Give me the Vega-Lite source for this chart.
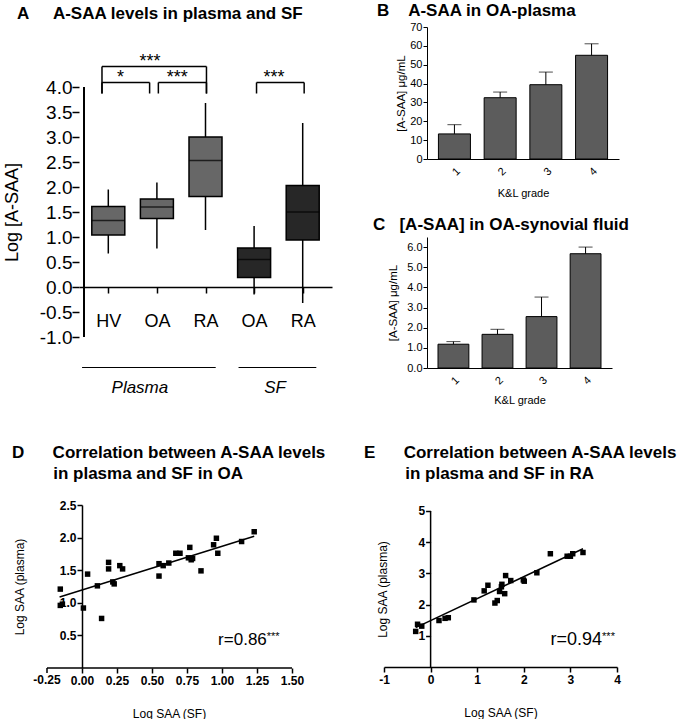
{
  "$schema": "https://vega.github.io/schema/vega-lite/v6.json",
  "background": "white",
  "padding": {"left": 3, "top": 1, "right": 0, "bottom": 0},
  "config": {
    "font": "Liberation Sans",
    "view": {"stroke": null},
    "axis": {"grid": false, "labelOverlap": false, "labelFlush": false, "domainColor": "black", "tickColor": "black", "labelColor": "black", "titleColor": "black", "titleFontWeight": "normal", "domainWidth": 1.5, "tickWidth": 1.5},
    "title": {"anchor": "start", "frame": "group", "fontSize": 17, "fontWeight": "bold", "color": "black", "baseline": "bottom"}
  },
  "spacing": 37,
  "vconcat": [
    {
      "spacing": 41,
      "hconcat": [
        {
          "width": 253,
          "height": 310,
          "title": {"text": "A\u00a0\u00a0\u00a0\u00a0\u00a0A-SAA levels in plasma and SF", "dx": -62, "offset": 4},
          "layer": [
            {
              "data": {"values": [
                {"pos": 1, "grp": "Plasma", "lo": 0.67, "q1": 1.04, "med": 1.33, "q3": 1.61, "hi": 1.95},
                {"pos": 2, "grp": "Plasma", "lo": 0.77, "q1": 1.37, "med": 1.6, "q3": 1.76, "hi": 2.09},
                {"pos": 3, "grp": "Plasma", "lo": 1.14, "q1": 1.81, "med": 2.53, "q3": 3.0, "hi": 3.68},
                {"pos": 4, "grp": "SF", "lo": -0.15, "q1": 0.19, "med": 0.55, "q3": 0.78, "hi": 1.22},
                {"pos": 5, "grp": "SF", "lo": -0.32, "q1": 0.94, "med": 1.5, "q3": 2.03, "hi": 3.28}
              ]},
              "layer": [
                {
                  "mark": {"type": "rule", "color": "black", "strokeWidth": 1.5},
                  "encoding": {
                    "x": {"field": "pos", "type": "quantitative", "title": null, "scale": {"domain": [0.5, 5.5], "nice": false, "zero": false},
                      "axis": {"values": [1, 2, 3, 4, 5], "tickCount": 20, "offset": -50, "tickSize": 6, "labelPadding": 19, "labelFontSize": 18, "labelOverlap": false, "labelFlush": false, "labelExpr": "['', 'HV', 'OA', 'RA', 'OA', 'RA'][datum.value]", "labelBaseline": "top"}},
                    "y": {"field": "lo", "type": "quantitative", "title": "Log [A-SAA]", "scale": {"domain": [-1, 5.2], "nice": false, "zero": false},
                      "axis": {"values": [-1, -0.5, 0, 0.5, 1, 1.5, 2, 2.5, 3, 3.5, 4], "tickCount": 20, "domain": false, "labelOverlap": false, "labelFlush": false, "labelExpr": "datum.value < 0 ? '-' + format(-datum.value, '.1f') : format(datum.value, '.1f')", "tickSize": 7, "labelPadding": 0, "labelFontSize": 19, "titleFontSize": 18, "titlePadding": 18, "titleY": 185}},
                    "y2": {"field": "hi"}
                  }
                },
                {
                  "mark": {"type": "bar", "size": 33, "stroke": "black", "strokeWidth": 1.5},
                  "encoding": {
                    "x": {"field": "pos", "type": "quantitative", "title": null},
                    "y": {"field": "q1", "type": "quantitative", "title": "Log [A-SAA]"},
                    "y2": {"field": "q3"},
                    "color": {"field": "grp", "type": "nominal", "scale": {"domain": ["Plasma", "SF"], "range": ["#676767", "#272727"]}, "legend": null}
                  }
                },
                {
                  "mark": {"type": "tick", "orient": "horizontal", "size": 33, "thickness": 1.5, "color": "black"},
                  "encoding": {
                    "x": {"field": "pos", "type": "quantitative", "title": null},
                    "y": {"field": "med", "type": "quantitative", "title": "Log [A-SAA]"}
                  }
                },
                {
                  "mark": {"type": "rule", "color": "black", "strokeWidth": 1.5},
                  "encoding": {"x": {"datum": 0.5}, "y": {"datum": -1}, "y2": {"datum": 4}}
                }
              ]
            },
            {
              "data": {"values": [
                {"a": 0.87, "b": 3.02, "y": 4.41, "s": "***", "m": 1.86},
                {"a": 0.87, "b": 1.85, "y": 4.09, "s": "*", "m": 1.25},
                {"a": 2.03, "b": 3.02, "y": 4.09, "s": "***", "m": 2.42},
                {"a": 4.05, "b": 5.03, "y": 4.09, "s": "***", "m": 4.41}
              ]},
              "layer": [
                {
                  "mark": {"type": "rule", "color": "black", "strokeWidth": 1.5},
                  "encoding": {"x": {"field": "a", "type": "quantitative", "title": null}, "x2": {"field": "b"}, "y": {"field": "y", "type": "quantitative", "title": "Log [A-SAA]"}}
                },
                {
                  "mark": {"type": "rule", "color": "black", "strokeWidth": 1.5},
                  "encoding": {"x": {"field": "a", "type": "quantitative", "title": null}, "y": {"field": "y", "type": "quantitative", "title": "Log [A-SAA]"}, "y2": {"datum": 3.87}}
                },
                {
                  "mark": {"type": "rule", "color": "black", "strokeWidth": 1.5},
                  "encoding": {"x": {"field": "b", "type": "quantitative", "title": null}, "y": {"field": "y", "type": "quantitative", "title": "Log [A-SAA]"}, "y2": {"datum": 3.87}}
                },
                {
                  "mark": {"type": "text", "fontSize": 18, "baseline": "alphabetic", "align": "center", "color": "black"},
                  "encoding": {"x": {"field": "m", "type": "quantitative", "title": null}, "y": {"field": "y", "type": "quantitative", "title": "Log [A-SAA]"}, "text": {"field": "s"}}
                }
              ]
            },
            {
              "data": {"values": [
                {"a": 0.46, "b": 3.21, "lab": "Plasma", "m": 1.65},
                {"a": 3.68, "b": 5.28, "lab": "SF", "m": 4.43}
              ]},
              "layer": [
                {
                  "mark": {"type": "rule", "color": "black", "strokeWidth": 1.2},
                  "encoding": {"x": {"field": "a", "type": "quantitative", "title": null}, "x2": {"field": "b"}, "y": {"datum": -1.61}}
                },
                {
                  "mark": {"type": "text", "fontSize": 17, "fontStyle": "italic", "baseline": "alphabetic", "align": "center", "color": "black"},
                  "encoding": {"x": {"field": "m", "type": "quantitative", "title": null}, "y": {"datum": -2.12}, "text": {"field": "lab"}}
                }
              ]
            }
          ]
        },
        {
          "spacing": 17,
          "vconcat": [
            {
              "width": 192,
              "height": 132,
              "title": {"text": "B\u00a0\u00a0\u00a0\u00a0A-SAA in OA-plasma", "dx": -50, "offset": 1.5},
              "data": {"values": [
                {"g": "1", "m": 13.3, "e": 18.2},
                {"g": "2", "m": 32.5, "e": 35.5},
                {"g": "3", "m": 39.4, "e": 46.1},
                {"g": "4", "m": 55.0, "e": 61.1}
              ]},
              "layer": [
                {
                  "mark": {"type": "bar", "fill": "#5c5c5c", "stroke": "black", "strokeWidth": 1},
                  "encoding": {
                    "x": {"field": "g", "type": "ordinal", "scale": {"paddingInner": 0.3, "paddingOuter": 0.25},
                      "axis": {"title": "K&L grade", "labelAngle": -45, "ticks": false, "domainWidth": 1, "labelFontSize": 11, "titleFontSize": 11, "titlePadding": 10, "labelPadding": 6}},
                    "y": {"field": "m", "type": "quantitative", "scale": {"domain": [0, 70], "nice": false},
                      "axis": {"title": "[A-SAA] μg/mL", "values": [0, 10, 20, 30, 40, 50, 60, 70], "tickCount": 20, "labelOverlap": false, "labelFlush": false, "tickSize": 4, "labelPadding": 1, "labelFontSize": 11, "titleFontSize": 11.5, "titlePadding": 3, "domainWidth": 1, "tickWidth": 1}}
                  }
                },
                {
                  "mark": {"type": "rule", "color": "black", "strokeWidth": 1},
                  "encoding": {"x": {"field": "g", "type": "ordinal"}, "y": {"field": "m", "type": "quantitative"}, "y2": {"field": "e"}}
                },
                {
                  "mark": {"type": "tick", "orient": "horizontal", "size": 14, "thickness": 1, "color": "black"},
                  "encoding": {"x": {"field": "g", "type": "ordinal"}, "y": {"field": "e", "type": "quantitative"}}
                }
              ]
            },
            {
              "width": 185,
              "height": 131,
              "title": {"text": "C\u00a0\u00a0\u00a0[A-SAA] in OA-synovial fluid", "dx": -54, "offset": 3},
              "data": {"values": [
                {"g": "1", "m": 1.18, "e": 1.31},
                {"g": "2", "m": 1.67, "e": 1.92},
                {"g": "3", "m": 2.55, "e": 3.52},
                {"g": "4", "m": 5.67, "e": 6.0}
              ]},
              "layer": [
                {
                  "mark": {"type": "bar", "fill": "#5c5c5c", "stroke": "black", "strokeWidth": 1},
                  "encoding": {
                    "x": {"field": "g", "type": "ordinal", "scale": {"paddingInner": 0.3, "paddingOuter": 0.25},
                      "axis": {"title": "K&L grade", "labelAngle": -45, "ticks": false, "domainWidth": 1, "labelFontSize": 11, "titleFontSize": 11, "titlePadding": 8, "labelPadding": 6}},
                    "y": {"field": "m", "type": "quantitative", "scale": {"domain": [0, 6.5], "nice": false},
                      "axis": {"title": "[A-SAA] μg/mL", "values": [0, 1, 2, 3, 4, 5, 6], "tickCount": 20, "labelOverlap": false, "labelFlush": false, "tickSize": 4, "labelPadding": 1, "labelFontSize": 11, "titleFontSize": 11.5, "titlePadding": 8, "domainWidth": 1, "tickWidth": 1}}
                  }
                },
                {
                  "mark": {"type": "rule", "color": "black", "strokeWidth": 1},
                  "encoding": {"x": {"field": "g", "type": "ordinal"}, "y": {"field": "m", "type": "quantitative"}, "y2": {"field": "e"}}
                },
                {
                  "mark": {"type": "tick", "orient": "horizontal", "size": 14, "thickness": 1, "color": "black"},
                  "encoding": {"x": {"field": "g", "type": "ordinal"}, "y": {"field": "e", "type": "quantitative"}}
                }
              ]
            }
          ]
        }
      ]
    },
    {
      "spacing": 37,
      "hconcat": [
        {
          "width": 213,
          "height": 163,
          "title": {"text": ["D\u00a0\u00a0\u00a0\u00a0\u00a0\u00a0Correlation between A-SAA levels", "\u200b\u00a0\u00a0\u00a0\u00a0\u00a0\u00a0\u00a0\u00a0\u2009in plasma and SF in OA"], "dx": -67, "offset": 16, "lineHeight": 21},
          "layer": [
            {
              "data": {"values": [
                {"sf": -0.155, "pl": 1.21}, {"sf": -0.155, "pl": 0.96}, {"sf": -0.14, "pl": 0.98}, {"sf": 0.01, "pl": 0.92},
                {"sf": 0.04, "pl": 1.44}, {"sf": 0.11, "pl": 1.26}, {"sf": 0.14, "pl": 0.76}, {"sf": 0.19, "pl": 1.62},
                {"sf": 0.19, "pl": 1.52}, {"sf": 0.22, "pl": 1.32}, {"sf": 0.23, "pl": 1.29}, {"sf": 0.27, "pl": 1.57},
                {"sf": 0.29, "pl": 1.52}, {"sf": 0.55, "pl": 1.6}, {"sf": 0.55, "pl": 1.41}, {"sf": 0.58, "pl": 1.57},
                {"sf": 0.62, "pl": 1.61}, {"sf": 0.67, "pl": 1.76}, {"sf": 0.7, "pl": 1.76}, {"sf": 0.76, "pl": 1.69},
                {"sf": 0.77, "pl": 1.85}, {"sf": 0.78, "pl": 1.66}, {"sf": 0.79, "pl": 1.68}, {"sf": 0.85, "pl": 1.49},
                {"sf": 0.94, "pl": 1.89}, {"sf": 0.96, "pl": 1.99}, {"sf": 0.97, "pl": 1.76}, {"sf": 1.14, "pl": 1.94},
                {"sf": 1.23, "pl": 2.09}
              ]},
              "mark": {"type": "point", "shape": "square", "filled": true, "size": 30, "color": "black", "opacity": 1},
              "encoding": {
                "x": {"field": "sf", "type": "quantitative", "scale": {"domain": [-0.0214, 1.5], "nice": false, "zero": false},
                  "axis": {"title": "Log SAA (SF)", "domain": false, "values": [0, 0.25, 0.5, 0.75, 1, 1.25, 1.5], "tickCount": 20, "labelOverlap": false, "labelFlush": false, "format": ".2f", "labelFontWeight": "bold", "labelFontSize": 12, "tickSize": 5, "labelPadding": 2, "titleFontSize": 12, "titlePadding": 22, "titleX": 90}},
                "y": {"field": "pl", "type": "quantitative", "scale": {"domain": [0, 2.5], "nice": false, "zero": false},
                  "axis": {"title": "Log SAA (plasma)", "values": [0.5, 1, 1.5, 2, 2.5], "tickCount": 20, "labelOverlap": false, "labelFlush": false, "format": ".1f", "offset": -3, "labelFontWeight": "bold", "labelFontSize": 12, "tickSize": 5, "labelPadding": 1, "titleFontSize": 12, "titlePadding": 33}}
              }
            },
            {
              "data": {"values": [{"tick": "-0.25"}]},
              "layer": [
                {
                  "mark": {"type": "rule", "color": "black", "strokeWidth": 1.5},
                  "encoding": {"x": {"datum": -0.25}, "x2": {"datum": 1.5}, "y": {"datum": 0}}
                },
                {
                  "mark": {"type": "rule", "color": "black", "strokeWidth": 1.5},
                  "encoding": {"x": {"datum": -0.25}, "y": {"datum": 0}, "y2": {"datum": -0.077}}
                },
                {
                  "mark": {"type": "text", "align": "center", "baseline": "top", "dy": 7, "fontSize": 12, "fontWeight": "bold", "color": "black"},
                  "encoding": {"x": {"datum": -0.25}, "y": {"datum": 0}, "text": {"field": "tick"}}
                }
              ]
            },
            {
              "data": {"values": [{"sf": -0.16, "pl": 1.09}, {"sf": 1.23, "pl": 2.02}]},
              "mark": {"type": "line", "color": "black", "strokeWidth": 1.5},
              "encoding": {"x": {"field": "sf", "type": "quantitative"}, "y": {"field": "pl", "type": "quantitative"}}
            },
            {
              "data": {"values": [{"t": "r=0.86"}]},
              "mark": {"type": "text", "align": "right", "baseline": "alphabetic", "fontSize": 17, "color": "black"},
              "encoding": {"x": {"datum": 1.32}, "y": {"datum": 0.35}, "text": {"field": "t"}}
            },
            {
              "data": {"values": [{"t": "***"}]},
              "mark": {"type": "text", "align": "left", "baseline": "alphabetic", "fontSize": 11, "dy": -5, "color": "black"},
              "encoding": {"x": {"datum": 1.32}, "y": {"datum": 0.35}, "text": {"field": "t"}}
            }
          ]
        },
        {
          "width": 233,
          "height": 162,
          "title": {"text": ["E\u00a0\u00a0\u00a0\u00a0\u00a0\u00a0Correlation between A-SAA levels", "\u200b\u00a0\u00a0\u00a0\u00a0\u00a0\u00a0\u00a0\u00a0\u2009in plasma and SF in RA"], "dx": -20, "offset": 22, "lineHeight": 21},
          "layer": [
            {
              "data": {"values": [
                {"sf": -0.32, "pl": 1.14}, {"sf": -0.28, "pl": 1.37}, {"sf": -0.19, "pl": 1.31}, {"sf": 0.18, "pl": 1.49},
                {"sf": 0.31, "pl": 1.56}, {"sf": 0.38, "pl": 1.58}, {"sf": 0.93, "pl": 2.15}, {"sf": 1.15, "pl": 2.44},
                {"sf": 1.23, "pl": 2.62}, {"sf": 1.38, "pl": 2.05}, {"sf": 1.43, "pl": 2.13}, {"sf": 1.48, "pl": 2.42},
                {"sf": 1.52, "pl": 2.57}, {"sf": 1.53, "pl": 2.65}, {"sf": 1.59, "pl": 2.35}, {"sf": 1.61, "pl": 2.93},
                {"sf": 1.72, "pl": 2.77}, {"sf": 1.99, "pl": 2.79}, {"sf": 2.01, "pl": 2.75}, {"sf": 2.28, "pl": 3.02},
                {"sf": 2.57, "pl": 3.63}, {"sf": 2.93, "pl": 3.55}, {"sf": 3.0, "pl": 3.55}, {"sf": 3.05, "pl": 3.63},
                {"sf": 3.27, "pl": 3.67}
              ]},
              "mark": {"type": "point", "shape": "square", "filled": true, "size": 30, "color": "black", "opacity": 1},
              "encoding": {
                "x": {"field": "sf", "type": "quantitative", "scale": {"domain": [-1, 4], "nice": false, "zero": false},
                  "axis": {"title": "Log SAA (SF)", "values": [-1, 0, 1, 2, 3, 4], "tickCount": 20, "labelOverlap": false, "labelFlush": false, "labelExpr": "datum.value < 0 ? '-' + format(-datum.value, 'd') : format(datum.value, 'd')", "labelFontWeight": "bold", "labelFontSize": 12, "tickSize": 5, "labelPadding": 2, "titleFontSize": 12, "titlePadding": 22}},
                "y": {"field": "pl", "type": "quantitative", "scale": {"domain": [0, 5.192], "nice": false, "zero": false},
                  "axis": {"title": "Log SAA (plasma)", "domain": false, "values": [1, 2, 3, 4, 5], "tickCount": 20, "labelOverlap": false, "labelFlush": false, "format": "d", "offset": -46.6, "labelFontWeight": "bold", "labelFontSize": 12, "tickSize": 5, "labelPadding": 1, "titleFontSize": 12, "titlePadding": 28, "titleY": 84}}
              }
            },
            {
              "data": {"values": [{"axis": "y"}]},
              "mark": {"type": "rule", "color": "black", "strokeWidth": 1.5},
              "encoding": {"x": {"datum": 0}, "y": {"datum": 0}, "y2": {"datum": 5}}
            },
            {
              "data": {"values": [{"sf": -0.32, "pl": 1.26}, {"sf": 3.27, "pl": 3.79}]},
              "mark": {"type": "line", "color": "black", "strokeWidth": 1.5},
              "encoding": {"x": {"field": "sf", "type": "quantitative"}, "y": {"field": "pl", "type": "quantitative"}}
            },
            {
              "data": {"values": [{"t": "r=0.94"}]},
              "mark": {"type": "text", "align": "right", "baseline": "alphabetic", "fontSize": 18, "color": "black"},
              "encoding": {"x": {"datum": 3.68}, "y": {"datum": 0.7}, "text": {"field": "t"}}
            },
            {
              "data": {"values": [{"t": "***"}]},
              "mark": {"type": "text", "align": "left", "baseline": "alphabetic", "fontSize": 11, "dy": -5, "color": "black"},
              "encoding": {"x": {"datum": 3.68}, "y": {"datum": 0.7}, "text": {"field": "t"}}
            }
          ]
        }
      ]
    }
  ]
}
